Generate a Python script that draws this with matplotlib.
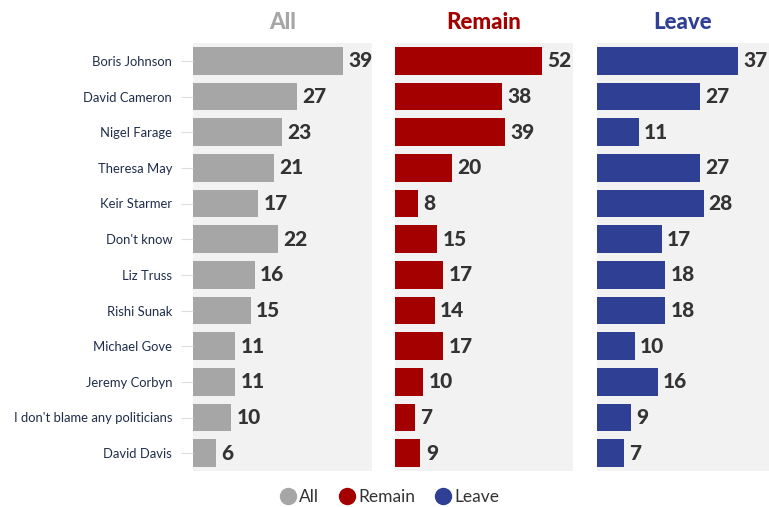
import matplotlib
matplotlib.use("Agg")
import matplotlib.pyplot as plt
from matplotlib.lines import Line2D

categories = ["Boris Johnson", "David Cameron", "Nigel Farage", "Theresa May", "Keir Starmer",
              "Don't know", "Liz Truss", "Rishi Sunak", "Michael Gove", "Jeremy Corbyn",
              "I don't blame any politicians", "David Davis"]
all_vals = [39, 27, 23, 21, 17, 22, 16, 15, 11, 11, 10, 6]
remain_vals = [52, 38, 39, 20, 8, 15, 17, 14, 17, 10, 7, 9]
leave_vals = [37, 27, 11, 27, 28, 17, 18, 18, 10, 16, 9, 7]
series_names = ["All", "Remain", "Leave"]
colors = ["#a6a6a6", "#a50000", "#2e3f94"]

plt.rcParams['font.family'] = ['Lato', 'DejaVu Sans']

fig = plt.figure(figsize=(7.69, 5.07), dpi=100)
lefts = [193/769, 395/769, 597/769]
widths = [179/769, 178/769, 172/769]
xmaxes = [46.5, 63.0, 45.2]
bottom = 1 - 471/507
height = (471 - 43)/507

y = list(range(len(categories)))
for i, (vals, name, col) in enumerate(zip([all_vals, remain_vals, leave_vals], series_names, colors)):
    ax = fig.add_axes([lefts[i], bottom, widths[i], height])
    ax.set_facecolor("#f2f2f2")
    ax.barh(y, vals, height=0.78, color=col)
    ax.set_xlim(0, xmaxes[i])
    ax.set_ylim(len(categories) - 0.5, -0.5)
    for s in ax.spines.values():
        s.set_visible(False)
    ax.set_xticks([])
    for yy, v in zip(y, vals):
        ax.text(v + xmaxes[i]*0.03, yy, str(v), va="center", ha="left",
                fontsize=15, fontweight="black", color="#333333")
    ax.set_title(name, fontsize=16, fontweight="black", color=col, pad=10)
    if i == 0:
        ax.set_yticks(y)
        ax.set_yticklabels(categories, fontsize=9.4, color="#1e2d4a")
        ax.tick_params(axis="y", length=9, color="#dddddd", pad=6)
    else:
        ax.set_yticks([])

handles = [Line2D([0], [0], marker="o", linestyle="", markersize=11.5, markerfacecolor=c,
                  markeredgecolor=c) for c in colors]
fig.legend(handles, series_names, loc="center", bbox_to_anchor=(385/769, 1 - 497/507),
           ncol=3, frameon=False, fontsize=12.5, handletextpad=-0.35, columnspacing=0.6,
           labelcolor="#333333")

fig.savefig("out.png", dpi=100)
